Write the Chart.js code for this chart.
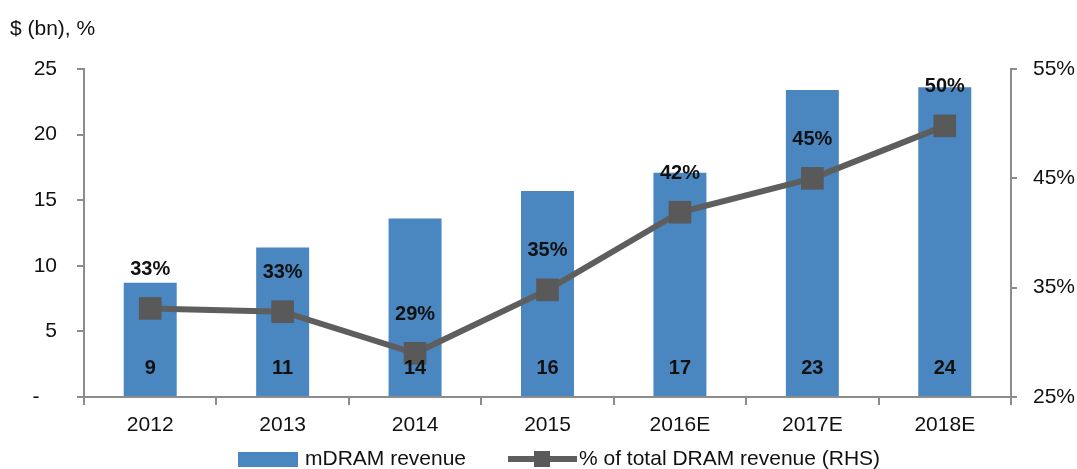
<!DOCTYPE html>
<html>
<head>
<meta charset="utf-8">
<script src="https://cdn.jsdelivr.net/npm/chart.js@4.4.0/dist/chart.umd.min.js"></script>
<style>
html,body{margin:0;padding:0;background:#fff;}
#wrap{width:1077px;height:469px;position:relative;}
</style>
</head>
<body>
<div id="wrap"><canvas id="c"></canvas></div>
<script>
const categories = ['2012','2013','2014','2015','2016E','2017E','2018E'];
const revenue = [8.7, 11.4, 13.6, 15.7, 17.1, 23.4, 23.6];
const revenueLabels = ['9','11','14','16','17','23','24'];
const sharePct = [33.1, 32.8, 29.0, 34.8, 41.9, 45.0, 49.8];
const shareLabels = ['33%','33%','29%','35%','42%','45%','50%'];
const leftTicks = [0,5,10,15,20,25];
const rightTicks = [25,35,45,55];
const yTitle = '$ (bn), %';
const seriesNames = ['mDRAM revenue','% of total DRAM revenue (RHS)'];

const FONT = '"Liberation Sans", Arial, sans-serif';
const AXIS = '#8c8c8c';
const BAR = '#4a86c0';
const LINE = '#5e5e5e';
const FS = 21;

const labelPlugin = {
  id: 'labels',
  afterDatasetsDraw(chart) {
    const ctx = chart.ctx;
    ctx.save();
    ctx.fillStyle = '#111';
    ctx.font = 'bold 20px ' + FONT;
    ctx.textAlign = 'center';
    ctx.textBaseline = 'middle';
    const bars = chart.getDatasetMeta(0).data;
    const yBase = chart.scales.y.getPixelForValue(0);
    bars.forEach((b, i) => ctx.fillText(revenueLabels[i], b.x, yBase - 29));
    const pts = chart.getDatasetMeta(1).data;
    pts.forEach((p, i) => ctx.fillText(shareLabels[i], p.x, p.y - 39));
    // axis title
    ctx.font = FS + 'px ' + FONT;
    ctx.textAlign = 'left';
    ctx.fillStyle = '#111';
    ctx.fillText(yTitle, 10, 29);
    // legend
    const ly = 459;
    ctx.fillStyle = BAR;
    ctx.fillRect(238, 452, 60, 15);
    ctx.fillStyle = '#111';
    ctx.fillText(seriesNames[0], 305, ly);
    ctx.strokeStyle = LINE;
    ctx.lineWidth = 6;
    ctx.beginPath(); ctx.moveTo(508, ly); ctx.lineTo(577, ly); ctx.stroke();
    ctx.fillStyle = '#595959';
    ctx.fillRect(534, ly - 8, 16, 16);
    ctx.fillStyle = '#111';
    ctx.fillText(seriesNames[1], 579, ly);
    ctx.restore();
  }
};

new Chart(document.getElementById('c'), {
  data: {
    labels: categories,
    datasets: [
      {
        type: 'bar',
        label: seriesNames[0],
        data: revenue,
        backgroundColor: BAR,
        yAxisID: 'y',
        barPercentage: 0.4,
        categoryPercentage: 1.0,
        order: 2
      },
      {
        type: 'line',
        label: seriesNames[1],
        data: sharePct,
        borderColor: LINE,
        borderWidth: 6,
        backgroundColor: '#595959',
        pointStyle: 'rect',
        pointRadius: 16,
        pointBorderWidth: 0,
        pointBackgroundColor: '#595959',
        yAxisID: 'y1',
        tension: 0,
        order: 1
      }
    ]
  },
  options: {
    responsive: true,
    maintainAspectRatio: false,
    animation: false,
    layout: { padding: { top: 69, left: 0, right: 0, bottom: 0 } },
    plugins: { legend: { display: false }, tooltip: { enabled: false } },
    scales: {
      x: {
        offset: true,
        grid: { display: true, drawOnChartArea: false, drawTicks: true, tickLength: 8, color: AXIS, lineWidth: 2, offset: true },
        border: { display: true, color: AXIS, width: 2 },
        ticks: { color: '#111', font: { family: FONT, size: FS }, padding: 8, maxRotation: 0 },
        afterFit(s) { s.height = 72; }
      },
      y: {
        position: 'left',
        min: 0, max: 25,
        afterBuildTicks(s) { s.ticks = leftTicks.map(v => ({ value: v })); },
        grid: { display: true, drawOnChartArea: false, drawTicks: true, tickLength: 7, color: AXIS, lineWidth: 2 },
        border: { display: true, color: AXIS, width: 2 },
        ticks: { color: '#111', font: { family: FONT, size: FS }, padding: 20,
          callback: v => v === 0 ? '-   ' : String(v) },
        afterFit(s) { s.width = 84; }
      },
      y1: {
        position: 'right',
        min: 25, max: 55,
        afterBuildTicks(s) { s.ticks = rightTicks.map(v => ({ value: v })); },
        grid: { display: true, drawOnChartArea: false, drawTicks: true, tickLength: 6, color: AXIS, lineWidth: 2 },
        border: { display: true, color: AXIS, width: 2 },
        ticks: { color: '#111', font: { family: FONT, size: FS }, padding: 16,
          callback: v => v + '%' },
        afterFit(s) { s.width = 66; }
      }
    }
  },
  plugins: [labelPlugin]
});
</script>
</body>
</html>
